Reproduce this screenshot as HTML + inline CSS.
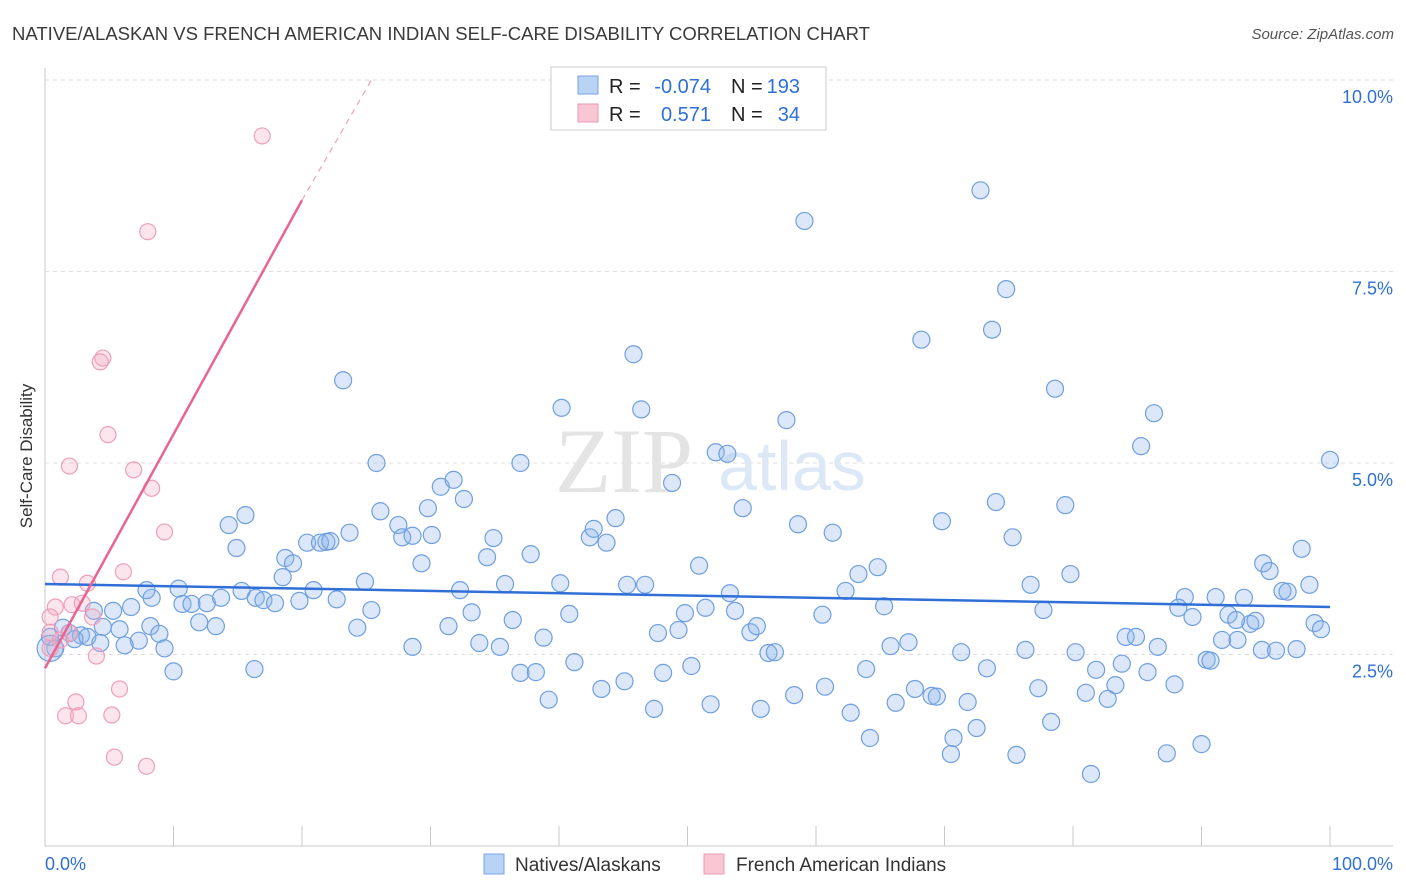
<!DOCTYPE html>
<html><head><meta charset="utf-8">
<style>
body{margin:0;background:#fff;font-family:"Liberation Sans",sans-serif;}
svg{display:block}
</style></head>
<body>
<svg id="chart" width="1406" height="892">
<text x="12" y="40" font-size="18" fill="#3a3a3a" textLength="858" lengthAdjust="spacingAndGlyphs">NATIVE/ALASKAN VS FRENCH AMERICAN INDIAN SELF-CARE DISABILITY CORRELATION CHART</text>
<text x="1394" y="39" font-size="15" fill="#555" font-style="italic" text-anchor="end">Source: ZipAtlas.com</text>
<text x="32" y="456" font-size="17" fill="#333" transform="rotate(-90 32 456)" text-anchor="middle">Self-Care Disability</text>
<g id="grid"></g>
<text x="555" y="492" font-size="92" fill="#e4e4e4" font-family="Liberation Serif,serif">ZIP</text>
<text x="718" y="490" font-size="70" fill="#dde8f6">atlas</text>
<g id="marks"></g>
<g id="legend">
<rect x="551" y="67" width="275" height="63" fill="#fff" stroke="#ccc"/>
<rect x="578" y="76" width="20" height="18" fill="#b9d3f5" stroke="#7aa6e4"/>
<rect x="578" y="104" width="20" height="18" fill="#f9c6d4" stroke="#eb9ab3"/>
<g font-size="20">
<text x="609" y="93" fill="#222">R =</text>
<text x="711" y="93" fill="#2f6fd6" text-anchor="end">-0.074</text>
<text x="731" y="93" fill="#222">N =</text>
<text x="800" y="93" fill="#2f6fd6" text-anchor="end">193</text>
</g>
<g font-size="20">
<text x="609" y="121" fill="#222">R =</text>
<text x="711" y="121" fill="#2f6fd6" text-anchor="end">0.571</text>
<text x="731" y="121" fill="#222">N =</text>
<text x="800" y="121" fill="#2f6fd6" text-anchor="end">34</text>
</g>
</g>
<g>
<rect x="484" y="854" width="20" height="20" fill="#b9d3f5" stroke="#7aa6e4"/>
<text x="515" y="871" font-size="19" fill="#333">Natives/Alaskans</text>
<rect x="704" y="854" width="20" height="20" fill="#f9c6d4" stroke="#eb9ab3"/>
<text x="736" y="871" font-size="19" fill="#333">French American Indians</text>
</g>
<text x="45" y="870" font-size="18" fill="#2f6fd6">0.0%</text>
<text x="1393" y="870" font-size="18" fill="#2f6fd6" text-anchor="end">100.0%</text>
</svg>
<script>
const yTicks=[2.5,5.0,7.5,10.0];
const yTickLabels=["2.5%","5.0%","7.5%","10.0%"];
const xTicks=[0,10,20,30,40,50,60,70,80,90,100];
const blueX=[23.2,45.8,72.8,59.1,74.8,73.7,68.2,78.6,86.3,85.3,100,40.2,46.4,57.7,25.8,37.0,52.2,53.1,48.8,30.8,31.8,32.6,26.1,15.6,14.3,14.9,27.5,29.8,27.8,28.6,30.1,23.7,20.4,21.4,21.9,22.2,34.9,37.8,34.4,29.3,42.4,42.7,43.7,44.4,54.3,58.6,61.3,69.8,74.0,75.3,79.4,97.8,94.8,95.3,50.9,64.8,63.3,79.8,76.7,98.4,96.3,96.7,93.3,91.1,88.7,18.7,19.3,18.5,10.4,8.3,7.9,15.3,20.9,24.9,22.7,35.8,40.1,45.3,46.7,32.3,53.3,62.3,65.3,8.2,10.7,11.4,12.6,13.7,16.4,17.0,17.9,19.8,25.4,33.2,36.4,40.8,49.8,51.4,53.7,60.5,77.7,88.2,89.3,92.1,93.8,94.2,98.8,99.3,92.7,6.7,5.3,3.8,5.8,4.5,1.9,2.8,1.4,0.4,0.8,2.3,3.3,8.9,12.0,13.3,7.3,6.2,4.3,9.3,10.0,16.3,24.3,31.4,28.6,33.8,35.4,38.8,47.7,49.3,54.9,55.4,56.3,56.8,65.8,67.2,71.3,76.3,80.2,84.1,84.9,86.6,91.6,92.8,94.7,95.8,97.4,37.0,38.2,41.2,48.1,50.3,63.9,73.3,81.8,83.8,85.8,90.4,90.7,87.9,83.3,81.0,82.7,77.3,67.7,69.0,69.4,71.8,66.2,60.7,58.3,51.8,55.7,47.4,43.3,45.1,39.2,62.7,78.3,72.5,70.7,64.2,70.5,75.6,87.3,90.0,81.4,0.4];
const blueY=[6.08,6.42,8.56,8.16,7.27,6.74,6.61,5.97,5.65,5.22,5.04,5.72,5.70,5.56,5.00,5.00,5.14,5.12,4.74,4.69,4.78,4.53,4.37,4.32,4.19,3.89,4.19,4.41,4.03,4.05,4.06,4.09,3.96,3.96,3.97,3.98,4.02,3.81,3.77,3.69,4.03,4.14,3.96,4.28,4.41,4.20,4.09,4.24,4.49,4.03,4.45,3.88,3.69,3.59,3.66,3.64,3.55,3.55,3.41,3.41,3.33,3.32,3.24,3.25,3.25,3.76,3.69,3.51,3.36,3.24,3.34,3.33,3.34,3.45,3.22,3.42,3.43,3.41,3.41,3.34,3.30,3.33,3.13,2.87,3.16,3.16,3.17,3.24,3.24,3.21,3.17,3.20,3.08,3.05,2.95,3.03,3.04,3.11,3.07,3.02,3.08,3.11,2.99,3.02,2.90,2.94,2.91,2.83,2.95,3.12,3.07,3.07,2.83,2.86,2.78,2.75,2.85,2.73,2.58,2.70,2.73,2.77,2.92,2.87,2.68,2.62,2.65,2.58,2.28,2.31,2.85,2.87,2.60,2.65,2.60,2.72,2.78,2.82,2.79,2.87,2.52,2.53,2.61,2.66,2.53,2.56,2.53,2.73,2.73,2.60,2.69,2.69,2.56,2.55,2.57,2.26,2.27,2.40,2.26,2.35,2.31,2.32,2.30,2.38,2.27,2.43,2.42,2.11,2.10,2.00,1.92,2.06,2.05,1.96,1.95,1.88,1.87,2.08,1.97,1.85,1.79,1.79,2.05,2.15,1.91,1.74,1.62,1.54,1.41,1.41,1.20,1.19,1.21,1.33,0.94,2.58];
const pinkX=[16.9,8.0,4.5,4.3,4.9,1.9,6.9,8.3,9.3,6.1,1.2,3.3,0.8,2.1,2.9,3.7,0.4,0.4,1.2,1.9,0.4,4.0,5.8,2.4,1.6,2.6,5.2,5.4,7.9];
const pinkY=[9.27,8.02,6.37,6.32,5.37,4.96,4.91,4.67,4.10,3.58,3.51,3.43,3.12,3.15,3.17,2.99,2.99,2.79,2.69,2.78,2.58,2.48,2.05,1.88,1.70,1.70,1.71,1.16,1.04];
const blueTrend=[[0,3.42],[100,3.12]];
const pinkTrend=[[0,2.32],[20,8.43]];
const pinkTrendExt=[[20,8.43],[25.4,10.0]];

const X0=45,X1=1330,Y0=846,PPU=76.6;
const sx=v=>X0+(X1-X0)*v/100;
const sy=v=>Y0-v*PPU;
const NS="http://www.w3.org/2000/svg";
function mk(tag,attrs,parent){const e=document.createElementNS(NS,tag);for(const k in attrs)e.setAttribute(k,attrs[k]);parent.appendChild(e);return e;}
const grid=document.getElementById('grid');
const marks=document.getElementById('marks');
let ax=mk('line',{x1:45,y1:68,x2:45,y2:846,stroke:'#c8c8c8'},grid);


let bx=mk('line',{x1:45,y1:846,x2:1393,y2:846,stroke:'#c8c8c8'},grid);


yTicks.forEach((t,i)=>{
  let g=mk('line',{x1:45,y1:sy(t),x2:1393,y2:sy(t),stroke:'#ddd','stroke-dasharray':'4,4'},grid);
  
  
  let l=mk('text',{x:1393,y:sy(t)+23,'font-size':18,fill:'#2f6fd6','text-anchor':'end'},grid);
  l.textContent=yTickLabels[i];
  
  
});
xTicks.forEach(t=>{
  let k=mk('line',{x1:sx(t),y1:826,x2:sx(t),y2:846,stroke:'#c8c8c8'},grid);
  
  
});
blueX.forEach((x,i)=>{
  const big=i===blueX.length-1;
  let c=mk('circle',{cx:sx(x),cy:sy(blueY[i]),r:big?13:8.5,fill:'rgba(140,180,235,0.3)',stroke:'#6f9fe0','stroke-width':1.2},marks);
  
  
});
pinkX.forEach((x,i)=>{
  let c=mk('circle',{cx:sx(x),cy:sy(pinkY[i]),r:8,fill:'rgba(245,170,195,0.3)',stroke:'#ee9fb8','stroke-width':1.2},marks);
  
  
});
let bl=mk('line',{x1:sx(blueTrend[0][0]),y1:sy(blueTrend[0][1]),x2:sx(blueTrend[1][0]),y2:sy(blueTrend[1][1]),stroke:'#2f6fd6','stroke-width':2.5},marks);


let pl=mk('line',{x1:sx(pinkTrend[0][0]),y1:sy(pinkTrend[0][1]),x2:sx(pinkTrend[1][0]),y2:sy(pinkTrend[1][1]),stroke:'#e8658f','stroke-width':2.5},marks);


let pd=mk('line',{x1:sx(pinkTrendExt[0][0]),y1:sy(pinkTrendExt[0][1]),x2:sx(pinkTrendExt[1][0]),y2:sy(pinkTrendExt[1][1]),stroke:'#f0a0b8','stroke-width':1.2,'stroke-dasharray':'6,5'},marks);


</script>
</body></html>
